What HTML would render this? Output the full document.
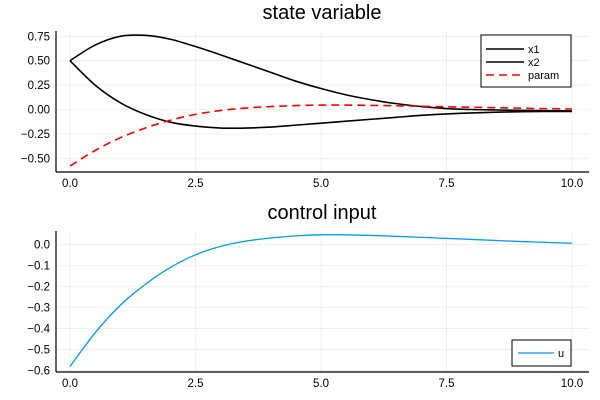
<!DOCTYPE html>
<html><head><meta charset="utf-8"><style>
body{margin:0;background:#fff}
svg{display:block;font-family:"Liberation Sans",sans-serif}
</style></head><body>
<svg id="c" width="600" height="400">
</svg>
<script>
const tVals=[0,0.5,1,1.5,2,2.5,3,3.5,4,4.5,5,5.5,6,6.5,7,7.5,8,8.5,9,9.5,10];
const x1Vals=[0.5,0.66,0.75,0.76,0.72,0.645,0.56,0.47,0.38,0.29,0.215,0.15,0.10,0.06,0.03,0.01,0.0,-0.005,-0.01,-0.012,-0.015];
const x2Vals=[0.5,0.25,0.07,-0.05,-0.13,-0.17,-0.19,-0.19,-0.18,-0.16,-0.14,-0.12,-0.10,-0.08,-0.06,-0.045,-0.035,-0.028,-0.022,-0.02,-0.02];
const paramVals=[-0.58,-0.42,-0.29,-0.19,-0.11,-0.05,-0.01,0.015,0.03,0.04,0.045,0.045,0.042,0.038,0.033,0.028,0.023,0.018,0.013,0.009,0.005];
const uVals=[-0.58,-0.42,-0.29,-0.19,-0.11,-0.05,-0.01,0.015,0.03,0.04,0.045,0.045,0.042,0.038,0.033,0.028,0.023,0.018,0.013,0.009,0.005];
const xTicks=[0,2.5,5,7.5,10];
const xTickLabels=["0.0","2.5","5.0","7.5","10.0"];
const topYTicks=[0.75,0.5,0.25,0,-0.25,-0.5];
const topYLabels=["0.75","0.50","0.25","0.00","\u22120.25","\u22120.50"];
const botYTicks=[0,-0.1,-0.2,-0.3,-0.4,-0.5,-0.6];
const botYLabels=["0.0","\u22120.1","\u22120.2","\u22120.3","\u22120.4","\u22120.5","\u22120.6"];

const NS="http://www.w3.org/2000/svg";
const svg=document.getElementById('c');
function mk(tag,attrs,parent,name){const e=document.createElementNS(NS,tag);for(const k in attrs)e.setAttribute(k,attrs[k]);(parent||svg).appendChild(e);


return e;}
const sx=t=>70+t*50.2;
const top_y=v=>109.5-v*97.6;
const bot_y=v=>244.3-v*210.7;
function smooth(xs,ys,fx,fy){const p=xs.map((x,i)=>[fx(x),fy(ys[i])]);let d=`M${p[0][0]},${p[0][1]}`;
for(let i=0;i<p.length-1;i++){const p0=p[i-1]||p[i],p1=p[i],p2=p[i+1],p3=p[i+2]||p2;
d+=` C${p1[0]+(p2[0]-p0[0])/6},${p1[1]+(p2[1]-p0[1])/6} ${p2[0]-(p3[0]-p1[0])/6},${p2[1]-(p3[1]-p1[1])/6} ${p2[0]},${p2[1]}`;}return d;}
function panel(pfx,title,ty,top,bottom,fy,yt,yl){
  const g=mk('g',{},svg,pfx+'-panel');
  mk('text',{x:322,y:ty,'text-anchor':'middle','font-size':20,fill:'#000'},g,pfx+'-title').textContent=title;
  xTicks.forEach((t,i)=>{mk('line',{x1:sx(t),x2:sx(t),y1:top,y2:bottom,stroke:'#000','stroke-opacity':0.1,'stroke-width':0.6},g,'x-gridline');
    mk('text',{x:sx(t),y:bottom+15,'text-anchor':'middle','font-size':11.5,fill:'#000'},g,'x-tick-label').textContent=xTickLabels[i];});
  yt.forEach((v,i)=>{mk('line',{x1:56,x2:589,y1:fy(v),y2:fy(v),stroke:'#000','stroke-opacity':0.1,'stroke-width':0.6},g,'y-gridline');
    mk('text',{x:50,y:fy(v)+4,'text-anchor':'end','font-size':11.5,fill:'#000'},g,'y-tick-label').textContent=yl[i];});
  mk('line',{x1:56,x2:589,y1:bottom,y2:bottom,stroke:'#000','stroke-width':1.2},g,'x-axis');
  mk('line',{x1:56,x2:56,y1:top,y2:bottom,stroke:'#000','stroke-width':1.2},g,'y-axis');
  return g;}
const g1=panel('top','state variable',19,31,172,top_y,topYTicks,topYLabels);
mk('path',{d:smooth(tVals,x1Vals,sx,top_y),fill:'none',stroke:'#000','stroke-width':1.6},g1,'x1-line');
mk('path',{d:smooth(tVals,x2Vals,sx,top_y),fill:'none',stroke:'#000','stroke-width':1.6},g1,'x2-line');
mk('path',{d:smooth(tVals,paramVals,sx,top_y),fill:'none',stroke:'#f00','stroke-width':1.6,'stroke-dasharray':'8,5'},g1,'param-line');
const lg=mk('g',{},g1,'top-legend');
mk('rect',{x:481,y:35,width:90,height:52,fill:'#fff',stroke:'#000','stroke-width':1},lg,'legend-box');
[['x1','#000',''],['x2','#000',''],['param','#f00','8,5']].forEach((e,i)=>{const y=49+i*13;
  mk('line',{x1:486,x2:524,y1:y,y2:y,stroke:e[1],'stroke-width':1.6,'stroke-dasharray':e[2]||'none'},lg,'legend-entry-line');
  mk('text',{x:528,y:y+4,'font-size':11,fill:'#000'},lg,'legend-entry-label').textContent=e[0];});
const g2=panel('bottom','control input',219,231,372,bot_y,botYTicks,botYLabels);
mk('path',{d:smooth(tVals,uVals,sx,bot_y),fill:'none',stroke:'#009af9','stroke-width':1.3},g2,'u-line');
const lg2=mk('g',{},g2,'bottom-legend');
mk('rect',{x:512,y:340,width:59,height:26,fill:'#fff',stroke:'#000','stroke-width':1},lg2,'legend-box');
mk('line',{x1:518,x2:554,y1:353,y2:353,stroke:'#009af9','stroke-width':1.3},lg2,'legend-entry-line');
mk('text',{x:558,y:357,'font-size':11,fill:'#000'},lg2,'legend-entry-label').textContent='u';
</script>
</body></html>
